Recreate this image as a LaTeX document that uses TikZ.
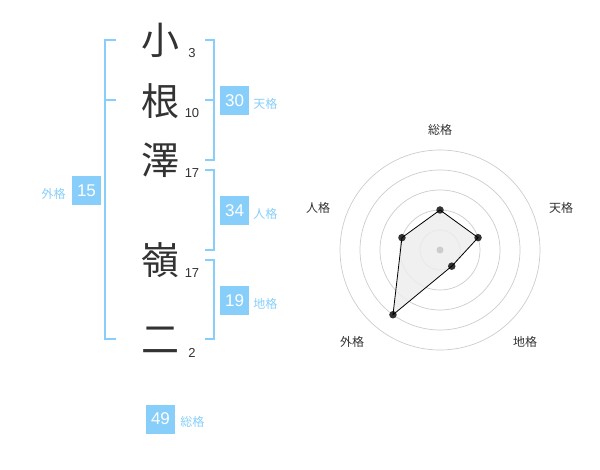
\documentclass[tikz,border=0pt]{standalone}
\usepackage{fontspec}
\setmainfont{Liberation Sans}
\newfontfamily\jp{Noto Sans CJK JP}
\usetikzlibrary{positioning}
\definecolor{kaku}{HTML}{87CEFA}
\definecolor{ink}{HTML}{333333}
\definecolor{ring}{HTML}{CCCCCC}

\begin{document}
\begin{tikzpicture}[x=1pt, y=-1pt,
    moji/.style={font=\jp\fontsize{38}{38}\selectfont, text=ink, inner sep=0pt},
    kazu/.style={font=\fontsize{13}{13}\selectfont, text=ink, inner sep=0pt},
    hako/.style={fill=kaku, text=white, minimum size=29pt, inner sep=0pt, font=\fontsize{17}{17}\selectfont},
    mei/.style={font=\jp\fontsize{12}{12}\selectfont, text=kaku, inner sep=0pt},
    kakko/.style={draw=kaku, line width=1.6pt},
    jiku/.style={font=\jp\fontsize{12}{12}\selectfont, text=ink, inner sep=0pt},
    ten/.style={circle, fill=ink, inner sep=0pt, minimum size=7.5pt}]

\useasboundingbox (0,0) rectangle (600,470);

% name
\node[moji] (c1) at (160,40) {小};
\node[moji] (c2) at (160,101) {根};
\node[moji] (c3) at (160,160) {澤};
\node[moji] (c4) at (160,260) {嶺};
\node[moji] (c5) at (160,340) {二};

\node[kazu] (k1) at (192,53) {3};
\node[kazu] (k2) at (192,113) {10};
\node[kazu] (k3) at (192,173) {17};
\node[kazu] (k4) at (192,273) {17};
\node[kazu] (k5) at (192,353) {2};

% brackets
\coordinate (l1) at (116,40);
\coordinate (l2) at (116,100);
\coordinate (l3) at (116,339);
\draw[kakko] (l1) -| (105,339) -- (l3);
\draw[kakko] (105,100) -- (l2);

\coordinate (t1) at (205,40);
\coordinate (t2) at (205,100);
\coordinate (t3) at (205,160);
\draw[kakko] (t1) -| (214,160) -- (t3);
\draw[kakko] (214,100) -- (t2);

\coordinate (j1) at (205,170);
\coordinate (j2) at (205,250);
\draw[kakko] (j1) -| (214,250) -- (j2);

\coordinate (g1) at (205,260);
\coordinate (g2) at (205,339);
\draw[kakko] (g1) -| (214,339) -- (g2);

% values
\node[hako] (ten) at (234.5,100.5) {30};
\node[mei, right=4pt of ten, yshift=-3pt] (tenm) {天格};
\node[hako] (jin) at (234.5,210.5) {34};
\node[mei, right=4pt of jin, yshift=-3pt] (jinm) {人格};
\node[hako] (chi) at (234.5,300.5) {19};
\node[mei, right=4pt of chi, yshift=-3pt] (chim) {地格};
\node[hako] (gai) at (86.5,190.5) {15};
\node[mei, left=6pt of gai, yshift=-3pt] (gaim) {外格};
\node[hako] (sou) at (160.5,419) {49};
\node[mei, right=5pt of sou, yshift=-3pt] (soum) {総格};

% chart
\coordinate (o) at (440,250);
\foreach \r in {20,40,...,100}
  \draw[ring, line width=0.7pt] (o) circle (\r);

\path (o) +(-90:40) coordinate (p1) +(-18:40) coordinate (p2)
  +(54:20) coordinate (p3) +(126:80) coordinate (p4) +(198:40) coordinate (p5);
\fill[black!7, opacity=0.85] (p1) -- (p2) -- (p3) -- (p4) -- (p5) -- cycle;
\node[circle, fill=ring, inner sep=0pt, minimum size=7pt] (mid) at (o) {};
\foreach \i in {1,...,5}
  \node[ten] (d\i) at (p\i) {};
\draw[black, line width=0.8pt] (d1.center) -- (d2.center) -- (d3.center)
  -- (d4.center) -- (d5.center) -- (d1.center);

\node[jiku] (a1) at (440,130) {総格};
\node[jiku] (a2) at (561,208) {天格};
\node[jiku] (a3) at (525,342) {地格};
\node[jiku] (a4) at (352,342) {外格};
\node[jiku] (a5) at (318,208) {人格};
\end{tikzpicture}
\end{document}
